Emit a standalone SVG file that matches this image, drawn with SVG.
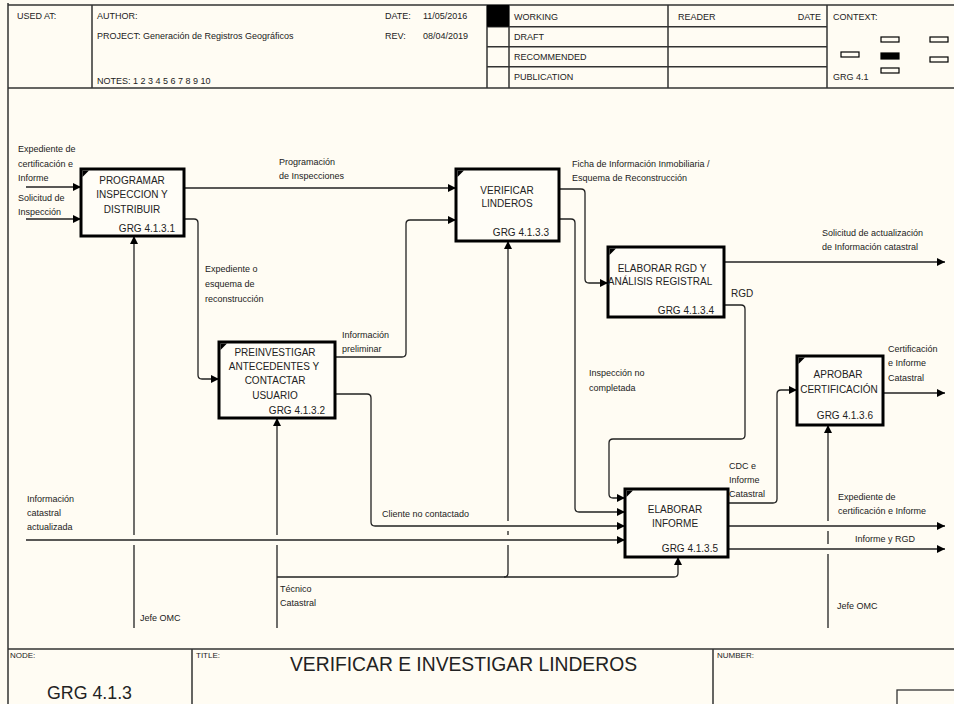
<svg xmlns="http://www.w3.org/2000/svg" width="954" height="704" viewBox="0 0 954 704">
<defs>
<style>
text{font-family:"Liberation Sans",Arial,sans-serif;fill:#222}
.h{font-size:9px}
.l{font-size:9px}
.b{font-size:10px;text-anchor:middle}
.g{font-size:10px;text-anchor:end}
.frame{stroke:#333;stroke-width:1.5;fill:none}
.box{fill:#fffdf7;stroke:#000;stroke-width:3}
.c{fill:none;stroke:#222;stroke-width:1.3}
.a{marker-end:url(#arr)}
</style>
<marker id="arr" markerUnits="userSpaceOnUse" markerWidth="9" markerHeight="9" refX="8" refY="4" orient="auto">
<path d="M0,0 L8,4 L0,8 z" fill="#000"/>
</marker>
</defs>
<rect x="0" y="0" width="954" height="704" fill="#fffcf3"/>

<g id="header">
<path class="frame" d="M8,5 L954,5 M8,3 L8,704 M8,88 L954,88 M92,5 L92,88 M487,5 L487,88 M509,5 L509,88 M668,5 L668,88 M827,5 L827,88 M487,26.7 L827,26.7 M487,46.7 L827,46.7 M487,66.7 L827,66.7"/>
<rect x="487" y="5" width="22" height="21.7" fill="#000"/>
<text class="h" x="17" y="18.5">USED AT:</text>
<text class="h" x="97" y="18.5">AUTHOR:</text>
<text class="h" x="97" y="38.5">PROJECT:  Generación de Registros Geográficos</text>
<text class="h" x="97" y="84">NOTES:  1  2  3  4  5  6  7  8  9  10</text>
<text class="h" x="385" y="18.5">DATE:</text>
<text class="h" x="423" y="18.5">11/05/2016</text>
<text class="h" x="385" y="38.5">REV:</text>
<text class="h" x="423" y="38.5">08/04/2019</text>
<text class="h" x="514" y="19.5">WORKING</text>
<text class="h" x="514" y="39.5">DRAFT</text>
<text class="h" x="514" y="59.5">RECOMMENDED</text>
<text class="h" x="514" y="79.5">PUBLICATION</text>
<text class="h" x="678" y="19.5">READER</text>
<text class="h" x="821" y="19.5" text-anchor="end">DATE</text>
<text class="h" x="833" y="19.5">CONTEXT:</text>
<text class="h" x="833" y="79.5">GRG 4.1</text>
<g fill="none" stroke="#000" stroke-width="1.2">
<rect x="841" y="52" width="18" height="5"/>
<rect x="881" y="37" width="18" height="5"/>
<rect x="881" y="53" width="18" height="6" fill="#000"/>
<rect x="881" y="68" width="18" height="5"/>
<rect x="930" y="37" width="18" height="5"/>
<rect x="930" y="57" width="18" height="5"/>
</g>
</g>

<g id="footer">
<path class="frame" d="M8,649 L954,649 M192,649 L192,704 M713,649 L713,704"/>
<rect x="897" y="690" width="60" height="20" fill="none" stroke="#333" stroke-width="1.3"/>
<text x="10" y="658" style="font-size:8px">NODE:</text>
<text x="196" y="658" style="font-size:8px">TITLE:</text>
<text x="717" y="658" style="font-size:8px">NUMBER:</text>
<text x="290" y="671" style="font-size:20px" textLength="347" lengthAdjust="spacingAndGlyphs">VERIFICAR E INVESTIGAR LINDEROS</text>
<text x="47" y="699" style="font-size:19px" textLength="85" lengthAdjust="spacingAndGlyphs">GRG 4.1.3</text>
</g>

<g id="connectors">
<path class="c a" d="M26,187 L81,187"/>
<path class="c a" d="M26,219 L81,219"/>
<path class="c a" d="M184,188 L456,188"/>
<path class="c a" d="M184,219 L194,219 Q198,219 198,223 L198,375 Q198,379 202,379 L219,379"/>
<path class="c a" d="M335,357 L402,357 Q406,357 406,353 L406,224 Q406,220 410,220 L456,220"/>
<path class="c a" d="M559,189 L581,189 Q585,189 585,193 L585,279 Q585,283 589,283 L608,283"/>
<path class="c a" d="M559,219 L571,219 Q575,219 575,223 L575,508 Q575,512 579,512 L625,512"/>
<path class="c a" d="M724,262 L945,262"/>
<path class="c a" d="M724,305 L741,305 Q745,305 745,309 L745,435 Q745,439 741,439 L613,439 Q609,439 609,443 L609,494 Q609,498 613,498 L625,498"/>
<path class="c a" d="M335,394 L367,394 Q371,394 371,398 L371,522 Q371,526 375,526 L625,526"/>
<path class="c a" d="M26,540 L625,540"/>
<path class="c a" d="M728,503 L773,503 Q777,503 777,499 L777,394 Q777,390 781,390 L797,390"/>
<path class="c a" d="M883,393 L945,393"/>
<path class="c a" d="M728,526 L945,526"/>
<path class="c a" d="M728,549 L945,549"/>
<path class="c a" d="M134,628 L134,545 M134,535 L134,236"/>
<path class="c a" d="M277,628 L277,545 M277,535 L277,418"/>
<path class="c a" d="M277,577 L674,577 Q678,577 678,573 L678,557"/>
<path class="c a" d="M504,577 Q508,577 508,573 L508,545 M508,535 L508,531 M508,521 L508,241"/>
<path class="c a" d="M828,628 L828,554 M828,544 L828,531 M828,521 L828,425"/>
</g>

<g id="labels">
<text class="l" x="18" y="151.5">Expediente de</text>
<text class="l" x="18" y="166.5">certificación e</text>
<text class="l" x="18" y="181">Informe</text>
<text class="l" x="18" y="200.5">Solicitud de</text>
<text class="l" x="18" y="214.5">Inspección</text>
<text class="l" x="279" y="164.5">Programación</text>
<text class="l" x="279" y="178.5">de Inspecciones</text>
<text class="l" x="205" y="271.5">Expediente o</text>
<text class="l" x="205" y="286.5">esquema de</text>
<text class="l" x="205" y="301.5">reconstrucción</text>
<text class="l" x="572" y="166.5">Ficha de Información Inmobiliaria /</text>
<text class="l" x="572" y="180.5">Esquema de Reconstrucción</text>
<text class="l" x="822" y="235.5">Solicitud de actualización</text>
<text class="l" x="822" y="249.5">de Información catastral</text>
<text class="l" x="731" y="297" style="font-size:10px">RGD</text>
<text class="l" x="342" y="337.5">Información</text>
<text class="l" x="342" y="351.5">preliminar</text>
<text class="l" x="589" y="375.5">Inspección no</text>
<text class="l" x="589" y="390.5">completada</text>
<text class="l" x="888" y="351.5">Certificación</text>
<text class="l" x="888" y="365.5">e Informe</text>
<text class="l" x="888" y="380.5">Catastral</text>
<text class="l" x="729" y="468.5">CDC e</text>
<text class="l" x="729" y="482.5">Informe</text>
<text class="l" x="729" y="496.5">Catastral</text>
<text class="l" x="838" y="499.5">Expediente de</text>
<text class="l" x="838" y="513.5">certificación e Informe</text>
<text class="l" x="855" y="541.5">Informe y RGD</text>
<text class="l" x="27" y="501.5">Información</text>
<text class="l" x="27" y="515.5">catastral</text>
<text class="l" x="27" y="529.5">actualizada</text>
<text class="l" x="382" y="516.5">Cliente no contactado</text>
<text class="l" x="280" y="591.5">Técnico</text>
<text class="l" x="280" y="605.5">Catastral</text>
<text class="l" x="140" y="620.5">Jefe OMC</text>
<text class="l" x="837" y="608.5">Jefe OMC</text>
</g>

<g id="n1">
<rect class="box" x="81" y="169" width="103" height="67"/>
<path d="M82.5,170.5 L89,170.5 L82.5,177 z" fill="#000"/>
<text class="b" x="132" y="183.5">PROGRAMAR</text>
<text class="b" x="132" y="198">INSPECCION Y</text>
<text class="b" x="132" y="212.5">DISTRIBUIR</text>
<text class="g" x="175" y="231.5">GRG 4.1.3.1</text>
</g>

<g id="n2">
<rect class="box" x="219" y="342" width="116" height="76"/>
<path d="M220.5,343.5 L227,343.5 L220.5,350 z" fill="#000"/>
<text class="b" x="275" y="355.5">PREINVESTIGAR</text>
<text class="b" x="274" y="369.5">ANTECEDENTES Y</text>
<text class="b" x="275" y="383.5">CONTACTAR</text>
<text class="b" x="275" y="398.5">USUARIO</text>
<text class="g" x="325" y="413.5">GRG 4.1.3.2</text>
</g>

<g id="n3">
<rect class="box" x="456" y="169" width="103" height="72"/>
<path d="M457.5,170.5 L464,170.5 L457.5,177 z" fill="#000"/>
<text class="b" x="507" y="193.5">VERIFICAR</text>
<text class="b" x="507" y="207">LINDEROS</text>
<text class="g" x="549" y="235.5">GRG 4.1.3.3</text>
</g>

<g id="n4">
<rect class="box" x="608" y="247" width="116" height="70"/>
<path d="M609.5,248.5 L616,248.5 L609.5,255 z" fill="#000"/>
<text class="b" x="662" y="271.5">ELABORAR RGD Y</text>
<text class="b" x="660" y="285">ANÁLISIS REGISTRAL</text>
<text class="g" x="714" y="313.5">GRG 4.1.3.4</text>
</g>

<g id="n5">
<rect class="box" x="625" y="489" width="103" height="68"/>
<path d="M626.5,490.5 L633,490.5 L626.5,497 z" fill="#000"/>
<text class="b" x="675" y="512.5">ELABORAR</text>
<text class="b" x="675" y="526.5">INFORME</text>
<text class="g" x="718" y="551.5">GRG 4.1.3.5</text>
</g>

<g id="n6">
<rect class="box" x="797" y="356" width="86" height="69"/>
<path d="M798.5,357.5 L805,357.5 L798.5,364 z" fill="#000"/>
<text class="b" x="838" y="377.5">APROBAR</text>
<text class="b" x="839" y="392.5">CERTIFICACIÓN</text>
<text class="g" x="873" y="418.5">GRG 4.1.3.6</text>
</g>
</svg>
